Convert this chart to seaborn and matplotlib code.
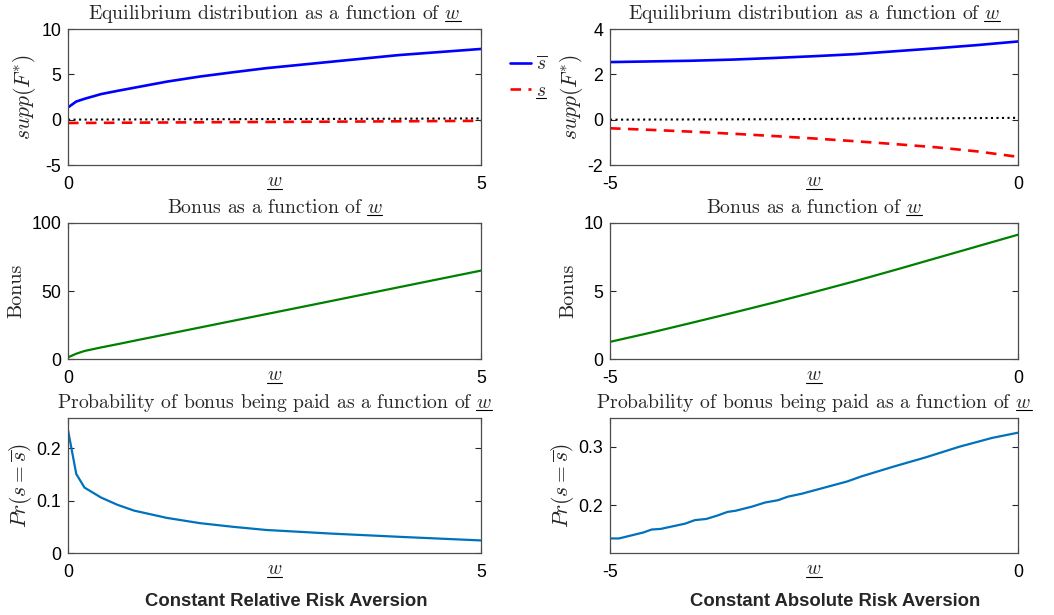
import numpy as np
import pandas as pd
import matplotlib
matplotlib.use('Agg')
import matplotlib.pyplot as plt
import seaborn as sns
from matplotlib.lines import Line2D

# ---------------- data ----------------
crra_w = [0, 0.1, 0.2, 0.4, 0.6, 0.8, 1.2, 1.6, 2.0, 2.4, 3.2, 4.0, 5.0]
crra_s_upper = [1.35, 2.0, 2.3, 2.82, 3.18, 3.52, 4.2, 4.76, 5.23, 5.68, 6.4, 7.12, 7.8]
crra_s_lower = [-0.37, -0.36, -0.36, -0.35, -0.34, -0.33, -0.31, -0.29, -0.27, -0.25, -0.22, -0.18, -0.13]
crra_mean = [0.0, 0.005, 0.01, 0.015, 0.02, 0.025, 0.035, 0.045, 0.055, 0.065, 0.085, 0.105, 0.14]
crra_bonus = [1.2, 3.9, 5.9, 8.5, 10.9, 13.4, 18.3, 23.2, 28.1, 33.0, 42.8, 52.7, 65.0]
crra_prob = [0.235, 0.151, 0.125, 0.106, 0.092, 0.081, 0.067, 0.057, 0.050, 0.044, 0.037, 0.031, 0.024]

cara_w = [-5, -4.5, -4, -3.5, -3, -2.5, -2, -1.5, -1, -0.5, 0]
cara_s_upper = [2.54, 2.57, 2.60, 2.65, 2.72, 2.80, 2.89, 3.02, 3.15, 3.29, 3.45]
cara_s_lower = [-0.38, -0.45, -0.53, -0.62, -0.72, -0.83, -0.95, -1.08, -1.22, -1.40, -1.64]
cara_mean = [0.0, 0.005, 0.01, 0.015, 0.02, 0.03, 0.04, 0.05, 0.06, 0.07, 0.08]
cara_bonus = [1.26, 1.94, 2.66, 3.39, 4.14, 4.92, 5.72, 6.56, 7.42, 8.28, 9.14]
cara_prob_w = [-5, -4.89, -4.59, -4.49, -4.38, -4.08, -3.96, -3.82, -3.68, -3.56, -3.46, -3.26,
               -3.10, -2.94, -2.82, -2.65, -2.33, -2.09, -1.93, -1.53, -1.13, -0.72, -0.32, 0]
cara_prob = [0.1438, 0.1438, 0.154, 0.159, 0.160, 0.169, 0.175, 0.177, 0.183, 0.189, 0.191, 0.198,
             0.205, 0.209, 0.215, 0.220, 0.232, 0.241, 0.249, 0.266, 0.282, 0.300, 0.315, 0.324]

titles = ["Equilibrium distribution as a function of ", "Bonus as a function of ",
          "Probability of bonus being paid as a function of "]
column_labels = ["Constant Relative Risk Aversion", "Constant Absolute Risk Aversion"]

# ---------------- style ----------------
sns.set_style('ticks')
plt.rcParams['font.family'] = ['Liberation Sans', 'DejaVu Sans']
plt.rcParams['mathtext.fontset'] = 'cm'
plt.rcParams['axes.unicode_minus'] = False

SERIF = 'cmr10'
BLUE, RED, GREEN, MBLUE = '#0000ff', '#ff0000', '#008000', '#0072bd'
TITLE_FS = 14.2
YLAB_FS = 15.5
TICK_FS = 12.8

fig = plt.figure(figsize=(10.54, 6.15), dpi=100)
W, H = 1054, 615
underlined = []  # (text artist, fontsize, mode)


def add_ax(x0, x1, y0, y1):
    return fig.add_axes([x0 / W, 1 - y1 / H, (x1 - x0) / W, (y1 - y0) / H])


def style(ax, xlim, ylim, yticks, ylabel, title, serif_ylabel=False):
    ax.set_xlim(xlim)
    ax.set_ylim(ylim)
    ax.set_xticks(list(xlim))
    ax.set_yticks(yticks)
    ax.tick_params(direction='in', top=True, right=True, length=4, width=0.8,
                   color='0.15', labelsize=TICK_FS, labelcolor='black')
    ax.tick_params(axis='x', pad=8)
    ax.tick_params(axis='y', pad=5)
    for s in ax.spines.values():
        s.set_visible(True)
        s.set_color('0.3')
        s.set_linewidth(0.9)
    h_px = ax.get_position().height * H
    t = ax.text(0.5, -21 / h_px, r'$w$', transform=ax.transAxes, ha='center', va='baseline',
                fontsize=14)
    underlined.append((t, 14, 'all'))
    if serif_ylabel:
        ax.set_ylabel(ylabel, fontsize=14.5, family=SERIF, labelpad=4)
    else:
        ax.set_ylabel(ylabel, fontsize=YLAB_FS, labelpad=2)
    tt = ax.set_title(title + r'$w$', fontsize=TITLE_FS, family=SERIF, pad=7.5)
    underlined.append((tt, TITLE_FS, 'last'))


LX = (68, 481)
RX = (610, 1018)
ROWS = [(29, 165), (223, 359), (418, 553)]

# ---- column 1 (CRRA)
ax = add_ax(*LX, *ROWS[0])
sns.lineplot(x=crra_w, y=crra_s_upper, ax=ax, color=BLUE, lw=1.9, label=r'$\overline{s}$', legend=False)
sns.lineplot(x=crra_w, y=crra_s_lower, ax=ax, color=RED, lw=1.9, label=r'$s$', legend=False)
ax.lines[-1].set_dashes((4, 2.8))
sns.lineplot(x=crra_w, y=crra_mean, ax=ax, color='black', lw=1.5, legend=False)
ax.lines[-1].set_linestyle(':')
style(ax, (0, 5), (-5, 10), [-5, 0, 5, 10], r'$supp(F^{*})$', titles[0])
h, l = ax.lines[:2], [ln.get_label() for ln in ax.lines[:2]]
leg = fig.legend(h, l, loc='upper left', bbox_to_anchor=(500 / W, 1 - 45 / H), frameon=False,
                 fontsize=14, handlelength=1.1, handletextpad=0.25, labelspacing=0.45, borderpad=0)
underlined.append((leg.get_texts()[1], 14, 'all'))

ax = add_ax(*LX, *ROWS[1])
sns.lineplot(x=crra_w, y=crra_bonus, ax=ax, color=GREEN, lw=1.6, legend=False)
style(ax, (0, 5), (0, 100), [0, 50, 100], 'Bonus', titles[1], serif_ylabel=True)

ax = add_ax(*LX, *ROWS[2])
sns.lineplot(x=crra_w, y=crra_prob, ax=ax, color=MBLUE, lw=1.6, legend=False)
style(ax, (0, 5), (0, 0.258), [0, 0.1, 0.2], r'$Pr(s=\overline{s})$', titles[2])
ax.set_yticklabels(['0', '0.1', '0.2'])

# ---- column 2 (CARA)
ax = add_ax(*RX, *ROWS[0])
sns.lineplot(x=cara_w, y=cara_s_upper, ax=ax, color=BLUE, lw=1.9, legend=False)
sns.lineplot(x=cara_w, y=cara_s_lower, ax=ax, color=RED, lw=1.9, legend=False)
ax.lines[-1].set_dashes((4, 2.8))
sns.lineplot(x=cara_w, y=cara_mean, ax=ax, color='black', lw=1.5, legend=False)
ax.lines[-1].set_linestyle(':')
style(ax, (-5, 0), (-2, 4), [-2, 0, 2, 4], r'$supp(F^{*})$', titles[0])

ax = add_ax(*RX, *ROWS[1])
sns.lineplot(x=cara_w, y=cara_bonus, ax=ax, color=GREEN, lw=1.6, legend=False)
style(ax, (-5, 0), (0, 10), [0, 5, 10], 'Bonus', titles[1], serif_ylabel=True)

ax = add_ax(*RX, *ROWS[2])
sns.lineplot(x=cara_prob_w, y=cara_prob, ax=ax, color=MBLUE, lw=1.6, legend=False)
style(ax, (-5, 0), (0.119, 0.349), [0.2, 0.3], r'$Pr(s=\overline{s})$', titles[2])
ax.set_yticklabels(['0.2', '0.3'])

fig.text(286 / W, 1 - 601 / H, column_labels[0], ha='center', va='center', fontsize=13.3, fontweight='bold')
fig.text(835 / W, 1 - 601 / H, column_labels[1], ha='center', va='center', fontsize=13.3, fontweight='bold')

# ---- underline decoration for the math symbols (mathtext lacks \underline)
fig.canvas.draw()
r = fig.canvas.get_renderer()
for t, fs, mode in underlined:
    bb = t.get_window_extent(r)
    if t.get_verticalalignment() == 'baseline':
        base = t.get_transform().transform(t.get_position())[1]
    else:
        base = bb.y0
    if mode == 'last':
        tmp = fig.text(0, 0, r'$w$', fontsize=fs)
        ww = tmp.get_window_extent(r).width
        tmp.remove()
        x0, x1 = bb.x1 - ww, bb.x1
    else:
        x0, x1 = bb.x0, bb.x1
    y = base - 2.5
    fig.add_artist(Line2D([x0 / W, x1 / W], [y / H, y / H], transform=fig.transFigure,
                          color='black', lw=0.8))

fig.savefig('out.png', dpi=100)
